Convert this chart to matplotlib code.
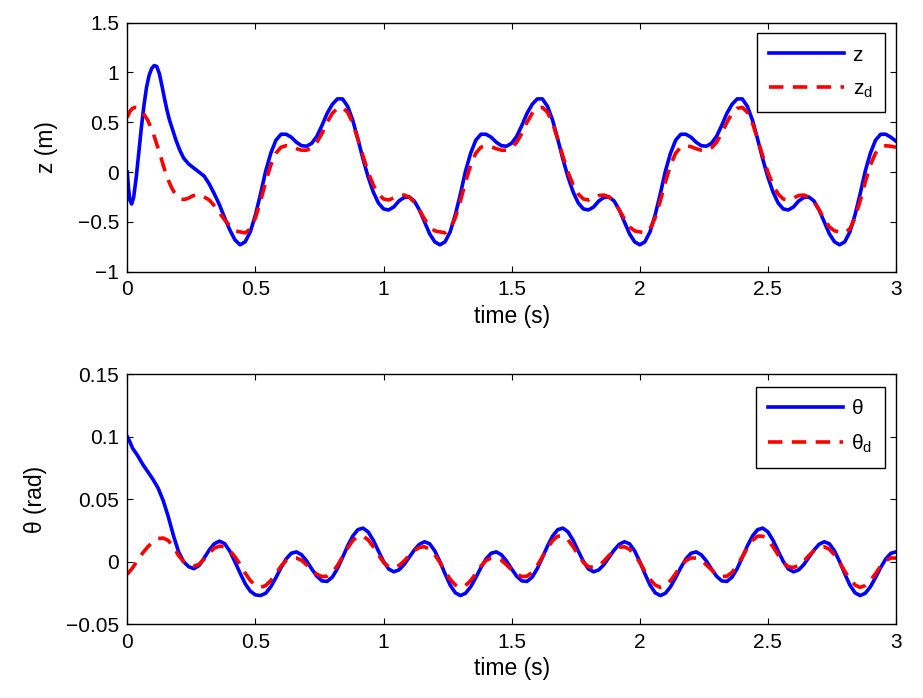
import numpy as np
import matplotlib
matplotlib.use("Agg")
import matplotlib.pyplot as plt
from matplotlib.ticker import FuncFormatter

plt.rcParams['font.family'] = ['Liberation Sans', 'DejaVu Sans']
plt.rcParams['mathtext.fontset'] = 'custom'
plt.rcParams['mathtext.rm'] = 'Liberation Sans'

# ---------------- data: top panel (z) ----------------
t_z_early = [0.00, 0.005, 0.01, 0.017, 0.025, 0.035, 0.045, 0.055, 0.065, 0.075,
             0.085, 0.095, 0.105, 0.115, 0.125, 0.135, 0.145, 0.155, 0.165, 0.175,
             0.19, 0.205, 0.22, 0.24, 0.26, 0.28, 0.30, 0.32, 0.34, 0.36, 0.38, 0.40, 0.42]
z_early = [0.00, -0.17, -0.28, -0.32, -0.25, -0.05, 0.20, 0.45, 0.67, 0.85,
           0.97, 1.04, 1.07, 1.06, 0.99, 0.87, 0.74, 0.62, 0.52, 0.44,
           0.32, 0.22, 0.14, 0.08, 0.04, 0.00, -0.04, -0.12, -0.22, -0.33, -0.46, -0.58, -0.68]

t_zd_early = [0.00, 0.01, 0.02, 0.03, 0.04, 0.05, 0.06, 0.07, 0.08, 0.09, 0.10,
              0.11, 0.12, 0.13, 0.14, 0.15, 0.16, 0.17, 0.18, 0.19, 0.20, 0.21,
              0.22, 0.23, 0.24, 0.25, 0.26, 0.27, 0.28, 0.29, 0.30, 0.32, 0.34,
              0.36, 0.38, 0.40, 0.42]
zd_early = [0.55, 0.61, 0.64, 0.65, 0.645, 0.63, 0.60, 0.56, 0.52, 0.46, 0.40,
            0.32, 0.24, 0.16, 0.07, -0.01, -0.08, -0.14, -0.19, -0.23, -0.255, -0.27,
            -0.275, -0.27, -0.26, -0.245, -0.235, -0.23, -0.23, -0.235, -0.25, -0.28, -0.34,
            -0.41, -0.48, -0.54, -0.59]

# sampled every 0.02 s from 0.44 s to 3.00 s
t_z_late_start, t_z_late_step = 0.44, 0.02
z_late = [
    -0.73, -0.70, -0.60, -0.43, -0.22, 0.01, 0.19, 0.32, 0.38, 0.38, 0.35, 0.30, 0.265,
    0.26, 0.29, 0.36, 0.47, 0.59, 0.68, 0.735, 0.735, 0.66, 0.52, 0.33, 0.13, -0.05,
    -0.20, -0.31, -0.37, -0.38, -0.35, -0.29, -0.255, -0.25, -0.29, -0.38, -0.50, -0.62, -0.70,
    -0.73, -0.70, -0.60, -0.43, -0.22, 0.01, 0.19, 0.32, 0.38, 0.38, 0.35, 0.30, 0.265,
    0.26, 0.29, 0.36, 0.47, 0.59, 0.68, 0.735, 0.735, 0.66, 0.52, 0.33, 0.13, -0.05,
    -0.20, -0.31, -0.37, -0.38, -0.35, -0.29, -0.255, -0.25, -0.29, -0.38, -0.50, -0.62, -0.70,
    -0.73, -0.70, -0.60, -0.43, -0.22, 0.01, 0.19, 0.32, 0.38, 0.38, 0.35, 0.30, 0.265,
    0.26, 0.29, 0.36, 0.47, 0.59, 0.68, 0.735, 0.735, 0.66, 0.52, 0.33, 0.13, -0.05,
    -0.20, -0.31, -0.37, -0.38, -0.35, -0.29, -0.255, -0.25, -0.29, -0.38, -0.50, -0.62, -0.70,
    -0.73, -0.70, -0.60, -0.43, -0.22, 0.01, 0.19, 0.32, 0.38, 0.38, 0.35, 0.31]
zd_late = [
    -0.60, -0.61, -0.57, -0.46, -0.29, -0.10, 0.07, 0.19, 0.25, 0.265, 0.255, 0.235, 0.22,
    0.22, 0.245, 0.30, 0.39, 0.50, 0.59, 0.64, 0.65, 0.60, 0.49, 0.33, 0.16, 0.00,
    -0.13, -0.22, -0.27, -0.28, -0.26, -0.235, -0.23, -0.25, -0.30, -0.38, -0.47, -0.55, -0.59,
    -0.60, -0.61, -0.57, -0.46, -0.29, -0.10, 0.07, 0.19, 0.25, 0.265, 0.255, 0.235, 0.22,
    0.22, 0.245, 0.30, 0.39, 0.50, 0.59, 0.64, 0.65, 0.60, 0.49, 0.33, 0.16, 0.00,
    -0.13, -0.22, -0.27, -0.28, -0.26, -0.235, -0.23, -0.25, -0.30, -0.38, -0.47, -0.55, -0.59,
    -0.60, -0.61, -0.57, -0.46, -0.29, -0.10, 0.07, 0.19, 0.25, 0.265, 0.255, 0.235, 0.22,
    0.22, 0.245, 0.30, 0.39, 0.50, 0.59, 0.64, 0.65, 0.60, 0.49, 0.33, 0.16, 0.00,
    -0.13, -0.22, -0.27, -0.28, -0.26, -0.235, -0.23, -0.25, -0.30, -0.38, -0.47, -0.55, -0.59,
    -0.60, -0.61, -0.57, -0.46, -0.29, -0.10, 0.07, 0.19, 0.25, 0.265, 0.26, 0.25]

# ---------------- data: bottom panel (theta) ----------------
t_th_early = [0.00, 0.01, 0.02, 0.04, 0.06, 0.08, 0.10, 0.12, 0.14, 0.16, 0.18, 0.20,
              0.22, 0.24, 0.26, 0.28, 0.30, 0.32, 0.34, 0.36, 0.38, 0.40, 0.42, 0.44,
              0.46, 0.48, 0.50]
th_early = [0.100, 0.096, 0.091, 0.085, 0.078, 0.072, 0.066, 0.059, 0.049, 0.036, 0.021, 0.008,
            0.000, -0.004, -0.0055, -0.003, 0.003, 0.0095, 0.0145, 0.0165, 0.0145, 0.0085, 0.000, -0.009,
            -0.0175, -0.0235, -0.0265]
t_thd_early = [0.00, 0.02, 0.04, 0.06, 0.08, 0.10, 0.12, 0.14, 0.16, 0.18, 0.20, 0.22,
               0.24, 0.26, 0.28, 0.30, 0.32, 0.34, 0.36, 0.38, 0.40, 0.42, 0.44, 0.46,
               0.48, 0.50]
thd_early = [-0.010, -0.005, 0.001, 0.007, 0.012, 0.016, 0.0185, 0.019, 0.017, 0.012, 0.005, 0.000,
             -0.003, -0.0035, -0.002, 0.002, 0.007, 0.011, 0.0125, 0.012, 0.009, 0.004, -0.002, -0.009,
             -0.015, -0.019]

# sampled every 0.02 s from 0.52 s to 3.00 s
t_th_late_start, t_th_late_step = 0.52, 0.02
th_late = [
    -0.027, -0.0252, -0.020, -0.0127, -0.0047, 0.0023, 0.0068, 0.0079, 0.0056, 0.0006,
    -0.0058, -0.0116, -0.0153, -0.0157, -0.0123, -0.0055, 0.0034, 0.0127, 0.0206, 0.0257,
    0.0269, 0.0239, 0.0172, 0.0086, 0.0003, -0.0058, -0.008, -0.0065, -0.0023, 0.0035,
    0.0094, 0.014, 0.016, 0.0144, 0.0087, 0.0001, -0.0096, -0.0186, -0.0248,
    -0.027, -0.0252, -0.020, -0.0127, -0.0047, 0.0023, 0.0068, 0.0079, 0.0056, 0.0006,
    -0.0058, -0.0116, -0.0153, -0.0157, -0.0123, -0.0055, 0.0034, 0.0127, 0.0206, 0.0257,
    0.0269, 0.0239, 0.0172, 0.0086, 0.0003, -0.0058, -0.008, -0.0065, -0.0023, 0.0035,
    0.0094, 0.014, 0.016, 0.0144, 0.0087, 0.0001, -0.0096, -0.0186, -0.0248,
    -0.027, -0.0252, -0.020, -0.0127, -0.0047, 0.0023, 0.0068, 0.0079, 0.0056, 0.0006,
    -0.0058, -0.0116, -0.0153, -0.0157, -0.0123, -0.0055, 0.0034, 0.0127, 0.0206, 0.0257,
    0.0269, 0.0239, 0.0172, 0.0086, 0.0003, -0.0058, -0.008, -0.0065, -0.0023, 0.0035,
    0.0094, 0.014, 0.016, 0.0144, 0.0087, 0.0001, -0.0096, -0.0186, -0.0248,
    -0.027, -0.0252, -0.020, -0.0127, -0.0047, 0.0023, 0.0068, 0.0079]
thd_late = [
    -0.0205, -0.019, -0.015, -0.0095, -0.0035, 0.001, 0.003, 0.003, 0.0012, -0.0025,
    -0.0065, -0.010, -0.0118, -0.0115, -0.0085, -0.003, 0.004, 0.011, 0.017, 0.0205,
    0.0205, 0.0175, 0.012, 0.0055, -0.0005, -0.004, -0.0045, -0.003, 0.0005, 0.005,
    0.009, 0.0115, 0.012, 0.010, 0.0055, -0.0005, -0.0075, -0.014, -0.0185,
    -0.0205, -0.019, -0.015, -0.0095, -0.0035, 0.001, 0.003, 0.003, 0.0012, -0.0025,
    -0.0065, -0.010, -0.0118, -0.0115, -0.0085, -0.003, 0.004, 0.011, 0.017, 0.0205,
    0.0205, 0.0175, 0.012, 0.0055, -0.0005, -0.004, -0.0045, -0.003, 0.0005, 0.005,
    0.009, 0.0115, 0.012, 0.010, 0.0055, -0.0005, -0.0075, -0.014, -0.0185,
    -0.0205, -0.019, -0.015, -0.0095, -0.0035, 0.001, 0.003, 0.003, 0.0012, -0.0025,
    -0.0065, -0.010, -0.0118, -0.0115, -0.0085, -0.003, 0.004, 0.011, 0.017, 0.0205,
    0.0205, 0.0175, 0.012, 0.0055, -0.0005, -0.004, -0.0045, -0.003, 0.0005, 0.005,
    0.009, 0.0115, 0.012, 0.010, 0.0055, -0.0005, -0.0075, -0.014, -0.0185,
    -0.0205, -0.019, -0.015, -0.0095, -0.0035, 0.001, 0.003, 0.003]

x_ticks = [0, 0.5, 1, 1.5, 2, 2.5, 3]
z_ticks = [-1, -0.5, 0, 0.5, 1, 1.5]
th_ticks = [-0.05, 0, 0.05, 0.1, 0.15]

# ---------------- assemble time axes ----------------
def late_times(start, step, n):
    return list(np.round(start + step * np.arange(n), 4))

t_z = t_z_early + late_times(t_z_late_start, t_z_late_step, len(z_late))
z = z_early + z_late
t_zd = t_zd_early + late_times(t_z_late_start, t_z_late_step, len(zd_late))
zd = zd_early + zd_late
t_th = t_th_early + late_times(t_th_late_start, t_th_late_step, len(th_late))
th = th_early + th_late
t_thd = t_thd_early + late_times(t_th_late_start, t_th_late_step, len(thd_late))
thd = thd_early + thd_late

# ---------------- figure ----------------
W, H = 923, 698
fig = plt.figure(figsize=(W / 100, H / 100), dpi=100)
L = 127.3 / W
AW = (896.0 - 127.3) / W
ax1 = fig.add_axes([L, 1 - 271.7 / H, AW, 249.0 / H])
ax2 = fig.add_axes([L, 1 - 624.3 / H, AW, 250.1 / H])

TICK_FS = 15
LABEL_FS = 16.5
LW = 2.6
fmt = FuncFormatter(lambda v, p: ('%g' % v).replace('-', '\u2212'))

dash = (4.0, 2.6)

def style(ax, yticks, ylim):
    ax.set_xlim(0, 3)
    ax.set_ylim(*ylim)
    ax.set_xticks(x_ticks)
    ax.set_yticks(yticks)
    ax.xaxis.set_major_formatter(fmt)
    ax.yaxis.set_major_formatter(fmt)
    ax.tick_params(direction='in', top=True, right=True, length=4, width=0.8,
                   labelsize=TICK_FS, pad=6)
    for s in ax.spines.values():
        s.set_linewidth(1.0)
    ax.set_xlabel('time (s)', fontsize=LABEL_FS, labelpad=4)

l1, = ax1.plot(t_z, z, color='#0000ff', lw=LW, label='z')
l2, = ax1.plot(t_zd, zd, color='#ff0000', lw=LW, dashes=dash, label=r'z$_\mathregular{d}$')
style(ax1, z_ticks, (-1, 1.5))
ax1.set_ylabel('z (m)', fontsize=LABEL_FS)
ax1.yaxis.set_label_coords(-0.09, 0.5)

l3, = ax2.plot(t_th, th, color='#0000ff', lw=LW, label='\u03b8')
l4, = ax2.plot(t_thd, thd, color='#ff0000', lw=LW, dashes=dash, label='\u03b8$_\\mathregular{d}$')
style(ax2, th_ticks, (-0.05, 0.15))
ax2.set_ylabel('\u03b8 (rad)', fontsize=LABEL_FS)
ax2.yaxis.set_label_coords(-0.105, 0.5)

leg_kw = dict(loc='upper right', fontsize=TICK_FS, handlelength=3.6, handletextpad=0.4,
              labelspacing=0.7, borderpad=0.6, borderaxespad=0.0, fancybox=False,
              framealpha=1, edgecolor='black')
lg1 = ax1.legend(handles=[l1, l2], bbox_to_anchor=(0.9857, 0.9586), **leg_kw)
lg2 = ax2.legend(handles=[l3, l4], bbox_to_anchor=(0.9857, 0.950), **leg_kw)
for lg in (lg1, lg2):
    lg.get_frame().set_linewidth(1.0)

fig.savefig('out.png', dpi=100)
